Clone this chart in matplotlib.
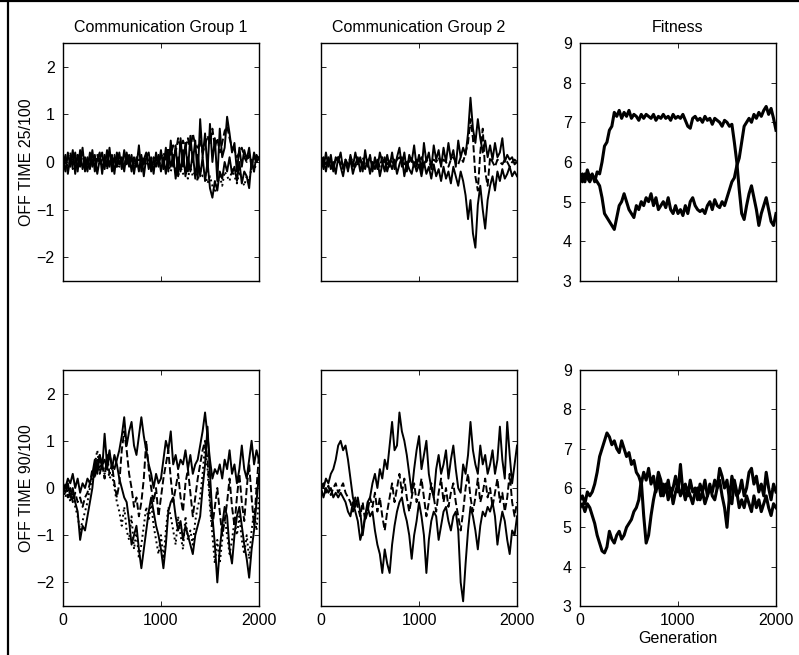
import matplotlib
matplotlib.use("Agg")
import matplotlib.pyplot as plt
from matplotlib.lines import Line2D

plt.rcParams['font.family'] = ['Liberation Sans', 'DejaVu Sans']
plt.rcParams['font.size'] = 11.5

# generation grid (every 25 generations)
gen = list(range(0, 2001, 25))

# --- OFF TIME 25/100, communication group 1
c1_top_a = [0.05, -0.2, 0.2, -0.1, 0.25, -0.25, 0.15, -0.05, 0.3, -0.2,
            0.1, -0.15, 0.25, -0.2, 0.05, 0.2, -0.25, 0.15, -0.1, 0.3,
            -0.2, 0.1, -0.1, 0.2, -0.15, 0.25, -0.05, 0.15, -0.2, 0.1,
            -0.1, 0.35, -0.2, 0.05, 0.2, -0.15, 0.1, -0.25, 0.2, -0.1,
            0.25, -0.15, 0.3, -0.2, 0.45, -0.1, 0.35, -0.3, 0.5, -0.1,
            0.4, -0.2, 0.55, 0.0, 0.45, -0.35, 0.9, 0.1, 0.6, -0.2,
            0.8, 0.0, 0.5, -0.4, 0.7, 0.1, 0.3, 0.95, 0.6, 0.2,
            0.4, -0.2, 0.3, -0.1, 0.25, 0.05, 0.3, -0.15, 0.2, 0.0,
            0.1]
c1_top_b = [-0.1, 0.15, -0.25, 0.1, -0.05, 0.2, -0.2, 0.25, -0.15, 0.05,
            -0.2, 0.2, -0.1, 0.15, -0.25, 0.05, 0.2, -0.15, 0.25, -0.1,
            0.15, -0.25, 0.2, -0.05, 0.1, -0.2, 0.2, -0.1, 0.15, -0.25,
            0.1, -0.2, 0.15, -0.3, 0.1, 0.2, -0.2, 0.05, -0.1, 0.15,
            -0.2, 0.1, -0.25, 0.2, -0.1, 0.15, -0.35, 0.1, -0.2, 0.25,
            -0.3, 0.1, -0.2, 0.2, -0.35, 0.15, -0.3, 0.1, -0.4, 0.0,
            -0.55, -0.75, -0.4, -0.6, -0.2, -0.35, 0.0, -0.2, 0.1, -0.25,
            -0.1, -0.4, 0.0, -0.45, -0.2, -0.3, -0.55, 0.05, -0.2, 0.15,
            0.05]
c1_top_c = [0.1, -0.05, 0.1, 0.2, -0.15, 0.0, 0.15, -0.1, 0.05, 0.1,
            -0.05, 0.1, 0.0, -0.1, 0.15, -0.05, 0.05, 0.1, -0.15, 0.05,
            0.0, 0.15, -0.1, 0.05, 0.0, -0.1, 0.15, 0.0, 0.05, -0.1,
            0.05, 0.0, 0.1, -0.05, 0.15, 0.0, -0.1, 0.1, 0.05, 0.0,
            0.1, 0.2, 0.05, 0.3, 0.15, 0.35, 0.2, 0.5, 0.3, 0.45,
            0.3, 0.5, 0.25, 0.6, 0.35, 0.3, 0.45, 0.2, 0.35, 0.55,
            0.4, 0.7, 0.3, 0.5, 0.2, 0.4, 0.65, 0.75, 0.5, 0.3,
            0.25, 0.1, 0.2, 0.3, 0.1, 0.0, 0.15, -0.05, 0.1, 0.0,
            0.0]
c1_top_d = [-0.05, 0.05, -0.1, 0.0, 0.1, -0.1, 0.05, 0.0, -0.1, 0.05,
            0.0, -0.1, 0.1, -0.05, 0.0, 0.1, -0.1, 0.05, 0.0, -0.05,
            0.1, -0.05, 0.0, -0.1, 0.05, 0.1, -0.05, 0.0, 0.1, -0.1,
            0.0, 0.05, -0.1, 0.1, -0.05, 0.0, 0.05, -0.1, 0.0, 0.05,
            -0.1, 0.0, -0.15, -0.05, -0.2, 0.0, -0.15, -0.3, -0.1, -0.25,
            -0.2, -0.35, -0.1, -0.3, -0.2, -0.4, -0.15, -0.3, -0.25, -0.45,
            -0.3, -0.5, -0.65, -0.45, -0.3, -0.5, -0.2, -0.3, -0.4, -0.15,
            -0.3, -0.45, -0.2, -0.35, -0.5, -0.3, -0.4, -0.1, -0.2, 0.0,
            0.05]

# --- OFF TIME 25/100, communication group 2
c2_top_a = [0.1, -0.15, 0.2, -0.1, 0.15, -0.2, 0.1, 0.0, 0.2, -0.15,
            0.05, -0.2, 0.15, -0.1, 0.2, -0.05, 0.1, -0.2, 0.25, -0.1,
            0.15, -0.2, 0.1, -0.15, 0.2, 0.0, -0.2, 0.15, -0.1, 0.2,
            -0.15, 0.1, 0.3, -0.1, 0.2, -0.2, 0.15, 0.0, 0.35, -0.1,
            0.15, -0.2, 0.4, 0.0, 0.2, -0.15, 0.35, 0.05, 0.25, -0.1,
            0.3, 0.0, 0.4, 0.05, 0.25, -0.1, 0.45, 0.1, 0.3, 0.15,
            0.6, 1.35, 0.7, 0.4, 0.9, 0.5, 0.2, 0.45, 0.1, 0.35,
            0.05, 0.4, 0.1, 0.2, 0.5, 0.0, 0.15, 0.05, 0.1, -0.05,
            0.0]
c2_top_b = [-0.1, 0.05, -0.2, 0.1, -0.15, 0.0, -0.25, 0.1, -0.1, -0.3,
            0.0, -0.15, 0.05, -0.25, -0.05, 0.1, -0.2, 0.0, -0.15, 0.05,
            -0.25, 0.0, -0.15, 0.05, -0.3, -0.05, 0.1, -0.2, 0.0, -0.15,
            0.05, -0.25, -0.05, 0.1, -0.3, 0.0, -0.15, -0.25, 0.0, -0.2,
            -0.05, -0.3, 0.0, -0.25, -0.1, -0.35, -0.05, -0.3, -0.15, -0.4,
            -0.1, -0.35, -0.2, -0.45, -0.1, -0.3, -0.5, -0.2, -0.4, -0.7,
            -1.2, -0.8, -1.5, -1.8, -0.9, -0.5, -1.0, -1.4, -0.8, -0.5,
            -0.3, -0.6, -0.2, -0.4, -0.15, -0.35, -0.25, -0.1, -0.3, -0.2,
            -0.3]
c2_top_c = [0.0, 0.1, -0.05, 0.05, 0.0, -0.1, 0.05, 0.1, -0.05, 0.0,
            0.05, -0.05, 0.1, 0.0, -0.1, 0.05, 0.0, 0.1, -0.05, 0.0,
            0.1, -0.05, 0.0, 0.05, -0.1, 0.1, 0.0, -0.05, 0.05, 0.0,
            -0.05, 0.05, 0.1, 0.0, -0.05, 0.05, 0.0, 0.1, -0.1, 0.05,
            0.0, 0.1, -0.05, 0.05, 0.0, -0.1, 0.05, 0.0, 0.1, -0.05,
            0.05, 0.0, -0.1, 0.05, 0.1, 0.0, -0.05, 0.1, 0.0, 0.2,
            0.4, 0.9, 0.5, -0.3, -0.6, 0.2, 0.7, -0.2, -0.5, 0.1,
            0.0, -0.1, 0.05, 0.0, -0.05, 0.05, 0.0, -0.1, 0.0, 0.05,
            0.0]

# --- OFF TIME 25/100, fitness
fit_top_a = [5.6, 5.7, 5.5, 5.8, 5.6, 5.7, 5.5, 5.75, 5.7, 6.0,
             6.4, 6.5, 6.8, 6.9, 7.25, 7.15, 7.3, 7.1, 7.25, 7.15,
             7.3, 7.1, 7.2, 7.15, 7.05, 7.2, 7.1, 7.2, 7.15, 7.1,
             7.2, 7.05, 7.15, 7.1, 7.2, 7.1, 7.15, 7.05, 7.2, 7.1,
             7.15, 7.1, 7.2, 7.05, 6.9, 6.85, 7.1, 7.15, 7.05, 7.1,
             7.0, 7.15, 7.05, 7.1, 6.95, 7.1, 7.05, 7.0, 6.9, 7.05,
             7.0, 6.9, 6.95, 6.5, 6.0, 5.3, 4.7, 4.55, 4.9, 5.2,
             5.4, 5.1, 4.8, 4.4, 4.7, 4.9, 5.1, 4.8, 4.5, 4.4,
             4.7]
fit_top_b = [5.6, 5.5, 5.7, 5.6, 5.5, 5.65, 5.6, 5.5, 5.4, 5.1,
             4.7, 4.6, 4.5, 4.4, 4.3, 4.6, 4.9, 5.0, 5.2, 5.0,
             4.8, 4.7, 4.6, 4.9, 4.8, 5.0, 4.9, 5.1, 5.0, 5.2,
             4.9, 5.1, 4.8, 4.9, 5.0, 4.85, 5.1, 4.8, 4.7, 4.9,
             4.7, 4.8, 4.65, 4.9, 4.7, 5.0, 5.1, 4.9, 4.8, 4.75,
             4.8, 4.7, 4.9, 5.0, 4.8, 5.05, 4.9, 4.85, 5.0, 4.9,
             5.1, 5.3, 5.5, 5.6, 5.9, 6.1, 6.5, 6.9, 7.0, 7.1,
             7.0, 7.2, 7.1, 7.25, 7.15, 7.3, 7.4, 7.2, 7.35, 7.1,
             6.8]

# --- OFF TIME 90/100, communication group 1
c1_bot_a = [0.0, -0.1, 0.1, -0.2, 0.0, -0.3, -0.5, -1.1, -0.8, -0.9,
            -0.6, -0.3, 0.0, 0.5, 0.3, 0.7, 0.4, 1.15, 0.5, 0.8,
            0.4, 0.7, 0.5, 0.2, 0.0, -0.2, -0.3, -0.7, -1.2, -1.0,
            -0.8, -1.3, -1.7, -1.3, -0.9, -0.5, -0.2, -0.5, -0.8, -1.0,
            -1.3, -1.7, -1.2, -0.5, -0.3, -0.2, -0.6, -0.9, -0.7, -1.1,
            -0.8, -1.0, -1.2, -1.4, -1.0, -0.8, -0.6, 0.0, 0.5, 1.3,
            0.3, -0.6, -1.2, -2.0, -1.3, -0.8, -0.4, -0.6, -1.3, -1.6,
            -1.0, -0.6, -0.4, -0.8, -1.2, -1.5, -1.9, -1.3, -0.9, -0.3,
            0.3]
c1_bot_b = [0.1, 0.0, 0.2, 0.1, 0.3, 0.0, 0.2, -0.1, 0.1, 0.0,
            0.2, 0.1, 0.3, 0.6, 0.4, 0.7, 0.5, 0.6, 0.4, 0.7,
            0.5, 0.4, 0.6, 0.8, 1.1, 1.5, 0.9, 1.2, 1.4, 0.9,
            0.7, 1.1, 1.5, 1.1, 0.8, 0.5, 0.3, 0.0, 0.3, 0.1,
            0.2, 0.6, 1.0, 0.8, 1.2, 0.5, 0.7, 0.4, 0.6, 0.5,
            0.8, 0.4, 0.7, 0.3, 0.5, 0.6, 0.9, 1.2, 1.6, 1.1,
            0.6, 0.2, 0.4, 0.3, 0.5, 0.2, 0.6, 0.4, 0.8, 0.3,
            0.5, 0.1, 0.4, 0.9, 0.4, 0.2, 0.6, 1.0, 0.5, 0.8,
            0.6]
c1_bot_c = [-0.1, 0.1, -0.2, 0.0, -0.3, -0.1, -0.3, -0.2, -0.4, -0.2,
            -0.1, 0.1, 0.4, 0.2, 0.6, 0.3, 0.5, 0.2, 0.7, 0.3,
            0.5, 0.1, -0.2, 0.1, 0.8, 1.2, 0.8, 0.3, 0.0, -0.4,
            -0.2, -0.6, -0.3, 0.2, 1.0, 0.4, 0.0, -0.3, 0.0, -0.6,
            -0.2, 0.2, 0.5, 0.8, 0.2, -0.3, 0.0, 0.3, -0.2, -0.5,
            0.1, 0.4, -0.1, -0.6, -0.2, 0.2, 0.5, 0.8, 1.0, 0.6,
            -0.2, -0.8, -0.4, 0.0, -0.5, -1.0, -0.7, -0.3, 0.2, -0.4,
            -0.8, -0.2, 0.3, -0.3, -0.7, 0.0, 0.5, -0.2, -0.8, 0.0,
            0.7]
c1_bot_d = [0.0, -0.2, 0.0, -0.3, -0.1, -0.4, -0.6, -0.9, -0.7, -0.5,
            -0.3, 0.0, 0.2, 0.5, 0.8, 0.4, 0.6, 0.3, 0.5, 0.2,
            0.3, 0.0, -0.3, -0.5, -0.8, -0.4, -0.9, -1.1, -0.6, -1.3,
            -0.9, -1.5, -1.2, -0.8, -0.4, -0.7, -0.3, -0.8, -1.1, -1.4,
            -1.0, -1.5, -0.9, -0.4, -0.6, -0.9, -1.2, -0.6, -1.0, -1.3,
            -0.6, -1.1, -0.9, -1.2, -0.7, -0.4, -0.2, 0.3, 0.9, 0.4,
            -0.4, -1.0, -1.6, -1.1, -1.6, -1.1, -0.6, -1.0, -1.4, -1.1,
            -0.7, -1.0, -0.6, -1.1, -1.4, -1.0, -1.5, -0.9, -0.5, -0.9,
            -0.2]

# --- OFF TIME 90/100, communication group 2
c2_bot_a = [0.1, 0.0, 0.2, 0.1, 0.3, 0.4, 0.6, 0.9, 1.0, 0.8,
            0.9, 0.6, 0.2, -0.2, -0.4, -0.2, -0.5, -1.0, -0.6, -0.3,
            -0.2, 0.1, 0.3, 0.0, 0.4, 0.2, 0.6, 0.4, 0.9, 1.4,
            0.8, 0.9, 1.6, 1.2, 1.0, 0.7, 0.3, -0.1, 0.4, 0.8,
            1.1, 0.4, 0.7, 1.0, 0.3, 0.0, -0.2, 0.4, 0.7, 0.3,
            0.5, 0.8, 0.2, 0.6, 0.9, 0.4, 0.0, -0.1, 0.5, 0.3,
            0.7, 1.4, 0.8, 0.5, 0.3, 0.9, 0.5, 0.7, 0.3, 0.5,
            0.8, 0.3, 0.6, 1.3, 0.6, 0.2, 1.4, 0.7, 0.1, 0.5,
            0.9]
c2_bot_b = [0.0, -0.2, 0.0, -0.1, 0.0, -0.2, -0.1, -0.2, -0.1, -0.2,
            -0.3, -0.5, -0.6, -0.3, -0.5, -0.7, -1.1, -0.9, -0.6, -0.4,
            -0.6, -0.5, -0.9, -1.2, -1.4, -1.8, -1.3, -1.6, -1.8, -1.2,
            -0.8, -0.5, -0.3, -0.2, -0.5, -0.7, -1.0, -1.5, -1.0, -0.7,
            -0.3, -0.6, -1.0, -1.8, -1.1, -0.7, -0.5, -0.6, -1.1, -0.8,
            -0.5, -0.4, -0.7, -0.9, -0.6, -0.5, -0.9, -2.0, -2.4, -1.6,
            -0.9, -0.4, -0.6, -0.9, -1.3, -0.8, -0.5, -0.6, -0.4, -0.5,
            -0.3, -0.6, -1.2, -0.8, -0.5, -0.7, -1.1, -1.4, -0.9, -1.0,
            -0.6]
c2_bot_c = [0.0, 0.1, -0.1, 0.05, -0.15, 0.0, 0.1, -0.1, 0.0, 0.1,
            -0.1, -0.2, -0.3, -0.5, -0.2, -0.4, -0.6, -0.3, -0.7, -0.5,
            -0.2, -0.4, -0.1, -0.5, -0.2, -0.6, -0.9, -0.5, -0.2, 0.1,
            -0.3, 0.0, 0.3, -0.1, 0.2, -0.2, -0.5, -0.2, 0.1, -0.3,
            -0.1, 0.2, -0.2, -0.6, -0.3, 0.1, -0.2, -0.5, -0.1, 0.2,
            -0.3, 0.0, -0.4, -0.1, 0.1, -0.3, -0.6, -0.9, -0.5, 0.0,
            0.3, -0.2, -0.5, -0.2, 0.2, -0.3, -0.1, 0.2, -0.2, 0.0,
            -0.4, -0.1, 0.2, -0.3, -0.1, -0.5, -0.2, 0.3, -0.3, -0.6,
            -0.3]

# --- OFF TIME 90/100, fitness
fit_bot_a = [5.7, 5.8, 5.6, 5.9, 5.8, 5.9, 6.1, 6.4, 6.8, 7.0,
             7.2, 7.4, 7.3, 7.1, 7.2, 7.0, 6.9, 7.2, 7.0, 6.8,
             6.9, 6.6, 6.7, 6.4, 6.3, 6.1, 6.4, 6.2, 6.5, 6.1,
             6.3, 5.9, 6.2, 5.8, 6.1, 5.9, 6.2, 5.8, 6.0, 6.3,
             5.9, 6.6, 5.9, 6.1, 5.8, 6.2, 5.9, 6.0, 5.7, 6.1,
             5.9, 6.2, 5.8, 6.0, 5.9, 6.2, 6.0, 6.5, 6.3, 6.0,
             6.2, 5.7, 6.3, 6.0, 5.8, 5.9, 6.2, 5.8, 6.0, 6.4,
             6.5, 6.1, 6.3, 5.9, 6.1, 5.8, 6.4, 6.0, 5.7, 6.1,
             5.9]
fit_bot_b = [5.5, 5.6, 5.4, 5.6, 5.5, 5.3, 5.1, 4.8, 4.6, 4.4,
             4.35, 4.5, 4.9, 4.7, 4.6, 4.8, 4.9, 4.7, 4.8, 5.0,
             5.1, 5.2, 5.4, 5.5, 5.7, 6.2, 5.3, 4.6, 4.8, 5.3,
             5.7, 6.0, 6.4, 6.2, 5.8, 6.1, 5.7, 6.0, 5.6, 5.9,
             6.1, 5.8, 6.0, 5.7, 6.0, 5.8, 5.6, 5.9, 6.0, 5.7,
             5.9, 5.6, 5.8, 6.1, 5.8, 5.7, 6.0, 6.2, 5.8, 5.5,
             5.0, 5.8, 5.6, 6.2, 5.9, 5.5, 5.7, 5.5, 5.8, 5.6,
             5.4, 5.8, 5.5, 5.7, 5.4, 5.6, 5.8, 5.5, 5.3, 5.6,
             5.5]

styles = ['-', '-', '--', ':']

fig = plt.figure(figsize=(7.99, 6.55), dpi=100)

lefts = [0.0788, 0.4018, 0.7259]
w = 0.2453
rows = [(0.5710, 0.3634), (0.0748, 0.3603)]

panels = [
    [[c1_top_a, c1_top_b, c1_top_c, c1_top_d], [c2_top_a, c2_top_b, c2_top_c], [fit_top_a, fit_top_b]],
    [[c1_bot_a, c1_bot_b, c1_bot_c, c1_bot_d], [c2_bot_a, c2_bot_b, c2_bot_c], [fit_bot_a, fit_bot_b]],
]
titles = ['Communication Group 1', 'Communication Group 2', 'Fitness']
ylabels = ['OFF TIME 25/100', 'OFF TIME 90/100']

for r, (bot, h) in enumerate(rows):
    for c in range(3):
        ax = fig.add_axes([lefts[c], bot, w, h])
        series = panels[r][c]
        for k, s in enumerate(series):
            if c == 2:
                ax.plot(gen, s, color='black', lw=2.2, ls='-')
            else:
                ax.plot(gen, s, color='black', lw=1.4, ls=styles[k])
        ax.set_xlim(0, 2000)
        ax.set_xticks([0, 1000, 2000])
        if c == 2:
            ax.set_ylim(3, 9)
            ax.set_yticks([3, 4, 5, 6, 7, 8, 9])
        else:
            ax.set_ylim(-2.5, 2.5)
            ax.set_yticks([-2, -1, 0, 1, 2])
        ax.tick_params(direction='in', top=True, right=True, length=3.5, width=0.6)
        ax.tick_params(axis='y', pad=6)
        ax.tick_params(axis='x', pad=5)
        if c == 1:
            ax.set_yticklabels([])
        if r == 0:
            ax.set_xticklabels([])
            ax.set_title(titles[c], fontsize=11.5, pad=8)
        if c == 0:
            ax.set_ylabel(ylabels[r], labelpad=2)
        if r == 1 and c == 2:
            ax.set_xlabel('Generation', labelpad=2)
        for sp in ax.spines.values():
            sp.set_linewidth(1.0)

# partial frame around the figure
fig.add_artist(Line2D([0.0, 1.0], [0.9985, 0.9985], transform=fig.transFigure, color='black', lw=1.6))
fig.add_artist(Line2D([0.0094, 0.0094], [0.0, 1.0], transform=fig.transFigure, color='black', lw=1.6))

fig.savefig('out.png', dpi=100)
